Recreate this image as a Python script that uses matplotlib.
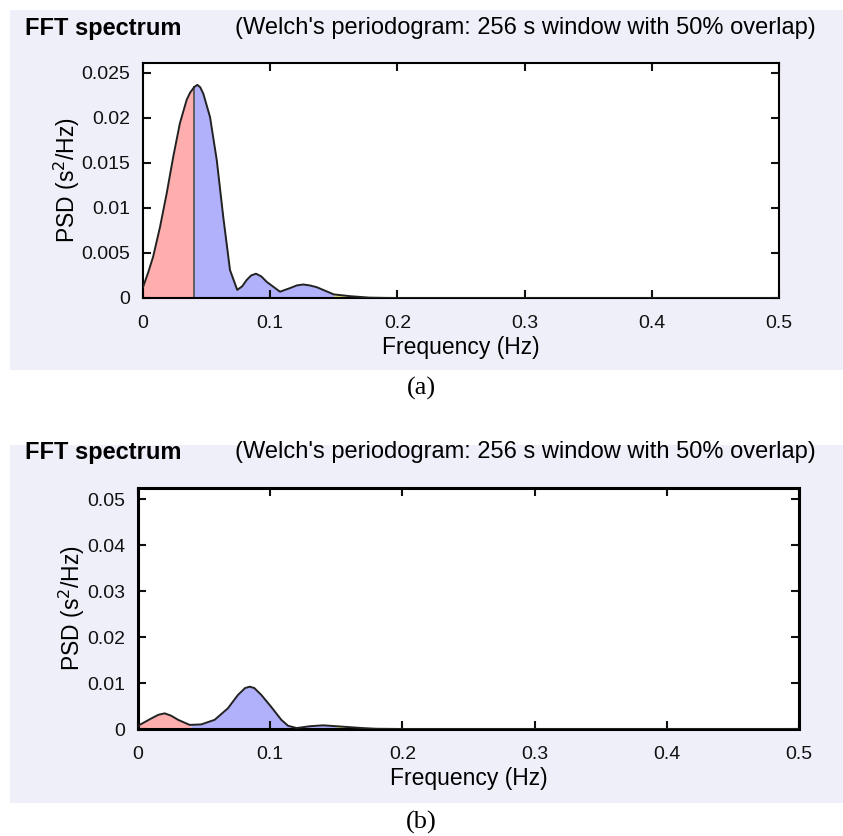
import numpy as np
import matplotlib.pyplot as plt
from matplotlib.patches import Rectangle

W, H = 843, 836

# panel (a) spectrum
freq_a = [0, 0.004, 0.008, 0.0134, 0.0186, 0.0238, 0.029, 0.0343, 0.037, 0.0396, 0.04,
          0.0427, 0.045, 0.0474, 0.0527, 0.058, 0.0631, 0.0684, 0.0741, 0.078, 0.0815,
          0.085, 0.0888, 0.093, 0.0972, 0.1077, 0.1156, 0.121, 0.126, 0.131, 0.1366,
          0.15, 0.163, 0.178, 0.19, 0.2, 0.5]
psd_a = [0.0012, 0.0028, 0.0046, 0.0079, 0.0116, 0.0157, 0.0194, 0.0220, 0.0228, 0.0233, 0.0234,
         0.02367, 0.0234, 0.0227, 0.0201, 0.0153, 0.0090, 0.0031, 0.0009, 0.0013, 0.0020,
         0.0025, 0.0027, 0.0024, 0.0018, 0.0007, 0.0011, 0.0014, 0.0015, 0.0014, 0.0012,
         0.0004, 0.0002, 0.00004, 0.00001, 0, 0]

# panel (b) spectrum
freq_b = [0, 0.0013, 0.0101, 0.0155, 0.0202, 0.025, 0.0303, 0.039, 0.04, 0.0479, 0.058,
          0.068, 0.0756, 0.081, 0.0845, 0.088, 0.0933, 0.1008, 0.1084, 0.1135, 0.12,
          0.13, 0.14, 0.15, 0.16, 0.17, 0.18, 0.2, 0.5]
psd_b = [0.0006, 0.0009, 0.0023, 0.0031, 0.0034, 0.0029, 0.0020, 0.0009, 0.0009, 0.0010, 0.0020,
         0.0045, 0.0074, 0.0089, 0.0092, 0.0089, 0.0074, 0.0048, 0.0020, 0.0007, 0.0002,
         0.0006, 0.0008, 0.0006, 0.0004, 0.0002, 0.00005, 0, 0]

# frequency bands: VLF, LF, HF
bands = [(0.0, 0.04), (0.04, 0.15), (0.15, 0.4)]
band_colors = ['#ffaeae', '#b0b0fb', '#dede80']

xticks = [0, 0.1, 0.2, 0.3, 0.4, 0.5]
xticklabels = ['0', '0.1', '0.2', '0.3', '0.4', '0.5']
yticks_a = [0, 0.005, 0.01, 0.015, 0.02, 0.025]
yticklabels_a = ['0', '0.005', '0.01', '0.015', '0.02', '0.025']
yticks_b = [0, 0.01, 0.02, 0.03, 0.04, 0.05]
yticklabels_b = ['0', '0.01', '0.02', '0.03', '0.04', '0.05']

title = 'FFT spectrum'
subtitle = "(Welch's periodogram: 256 s window with 50% overlap)"

plt.rcParams['font.family'] = ['Liberation Sans', 'DejaVu Sans']

fig = plt.figure(figsize=(W / 100, H / 100), dpi=100)


def box(x0, y0, x1, y1):
    # pixel box (top-left origin) -> figure fraction rect
    return [x0 / W, 1 - y1 / H, (x1 - x0) / W, (y1 - y0) / H]


def fx(x):
    return x / W


def fy(y):
    return 1 - y / H


# panel backgrounds
for y0, y1 in [(10, 370), (445, 803)]:
    fig.patches.append(Rectangle((fx(10), fy(y1)), fx(843) - fx(10), fy(y0) - fy(y1),
                                 transform=fig.transFigure, facecolor='#efeffa',
                                 edgecolor='none', zorder=-5))


def draw_panel(rect, f, p, ylim, yticks, yticklabels, lw_axis, vline):
    ax = fig.add_axes(rect, zorder=2)
    ax.set_facecolor('white')
    f = np.array(f)
    p = np.array(p)
    for (lo, hi), c in zip(bands, band_colors):
        m = (f >= lo) & (f <= hi)
        ax.fill_between(f, 0, p, where=m, color=c, linewidth=0, zorder=1)
    ax.plot(f, p, color='#222222', lw=1.4, zorder=3)
    if vline:
        ax.plot([0.04, 0.04], [0, np.interp(0.04, f, p)], color='#555555', lw=1.3, zorder=2)
    ax.set_xlim(0, 0.5)
    ax.set_ylim(*ylim)
    ax.set_xticks(xticks)
    ax.set_xticklabels(xticklabels)
    ax.set_yticks(yticks)
    ax.set_yticklabels(yticklabels)
    ax.tick_params(direction='in', length=6, width=1.5, top=True, right=True,
                   labelsize=14, pad=9, colors='#111111')
    ax.tick_params(axis='x', pad=12)
    for s in ax.spines.values():
        s.set_linewidth(lw_axis)
    ax.set_xlabel('Frequency (Hz)', fontsize=16.5, labelpad=3)
    ax.set_ylabel('PSD (s$^2$/Hz)', fontsize=16.5, labelpad=0)
    return ax


ax_a = draw_panel(box(143, 63, 779, 298), freq_a, psd_a, (0, 0.0261),
                  yticks_a, yticklabels_a, 1.5, True)
ax_b = draw_panel(box(138, 487.5, 799, 729), freq_b, psd_b, (0, 0.0525),
                  yticks_b, yticklabels_b, 2.2, False)

for ytitle in [28, 452]:
    fig.text(fx(25), fy(ytitle), title, fontsize=17, fontweight='bold', va='center')
    fig.text(fx(235), fy(ytitle), subtitle, fontsize=17, va='center')

fig.text(fx(421), fy(388), '(a)', fontsize=19, family='Liberation Serif', ha='center', va='center')
fig.text(fx(421), fy(822), '(b)', fontsize=19, family='Liberation Serif', ha='center', va='center')

fig.savefig('out.png', dpi=100, facecolor='white')
